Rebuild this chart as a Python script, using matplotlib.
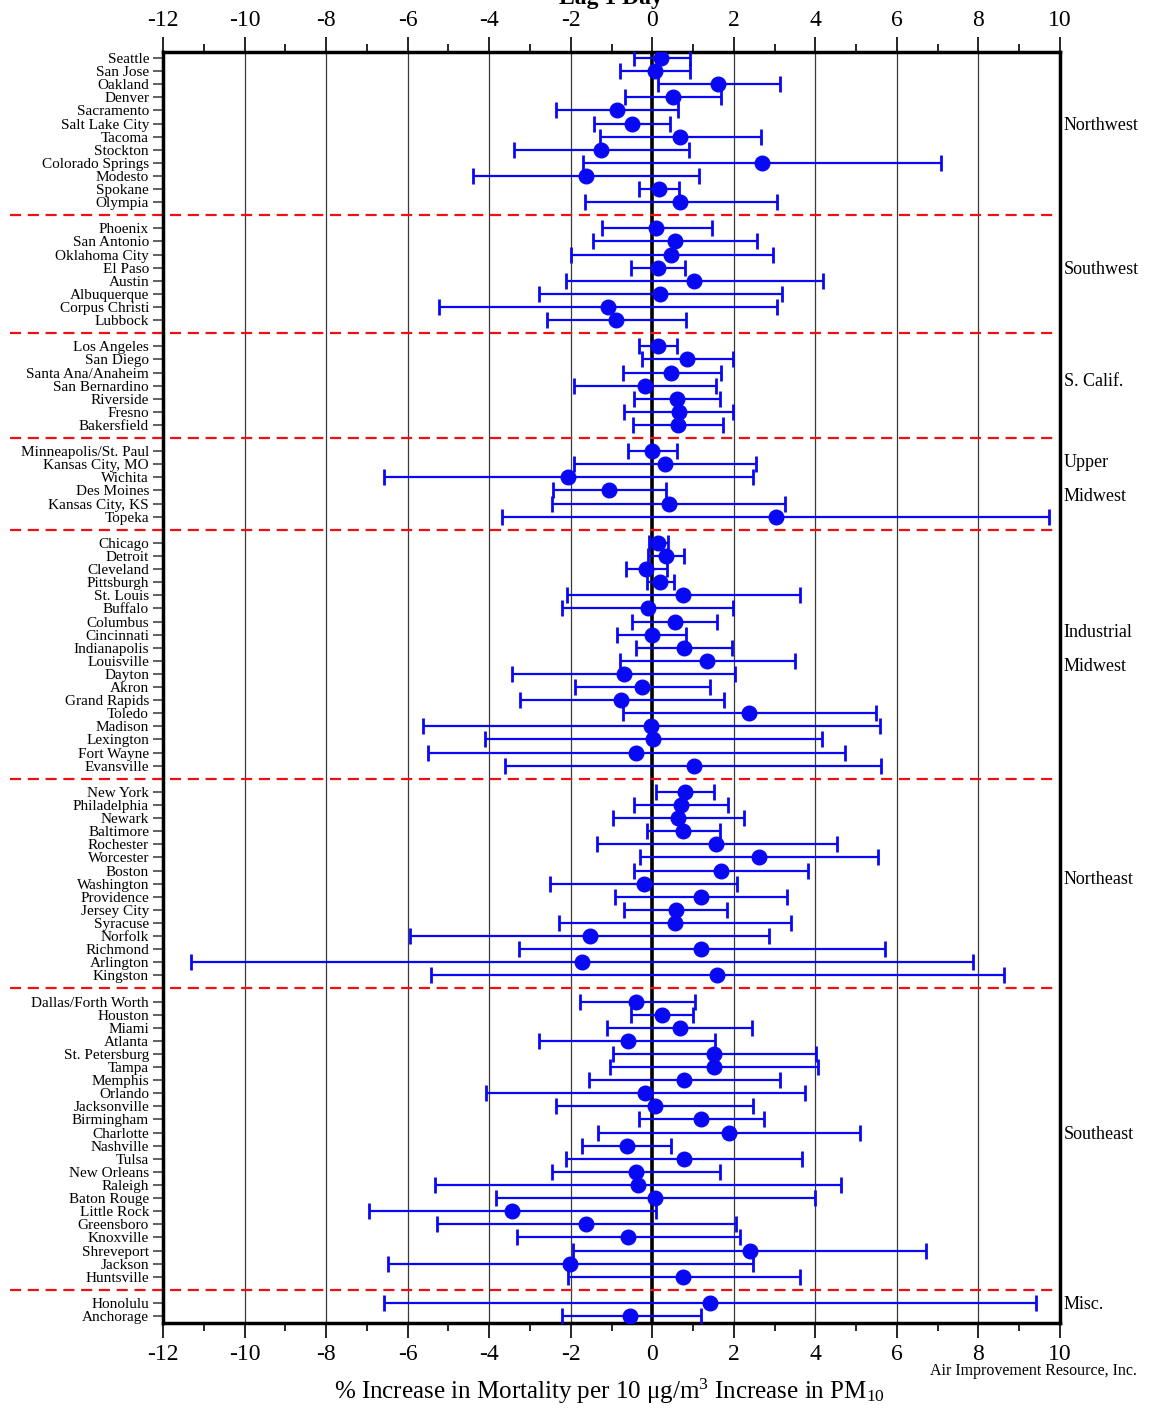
import matplotlib
matplotlib.use('Agg')
import matplotlib.pyplot as plt
import numpy as np
from matplotlib.transforms import blended_transform_factory

plt.rcParams['font.family'] = ['Liberation Serif', 'DejaVu Serif']
plt.rcParams['mathtext.fontset'] = 'custom'
plt.rcParams['mathtext.rm'] = 'Liberation Serif'
plt.rcParams['mathtext.it'] = 'Liberation Serif:italic'

cities = [
    'Seattle', 'San Jose', 'Oakland', 'Denver', 'Sacramento', 'Salt Lake City', 'Tacoma', 'Stockton',
    'Colorado Springs', 'Modesto', 'Spokane', 'Olympia',
    'Phoenix', 'San Antonio', 'Oklahoma City', 'El Paso', 'Austin', 'Albuquerque', 'Corpus Christi', 'Lubbock',
    'Los Angeles', 'San Diego', 'Santa Ana/Anaheim', 'San Bernardino', 'Riverside', 'Fresno', 'Bakersfield',
    'Minneapolis/St. Paul', 'Kansas City, MO', 'Wichita', 'Des Moines', 'Kansas City, KS', 'Topeka',
    'Chicago', 'Detroit', 'Cleveland', 'Pittsburgh', 'St. Louis', 'Buffalo', 'Columbus', 'Cincinnati',
    'Indianapolis', 'Louisville', 'Dayton', 'Akron', 'Grand Rapids', 'Toledo', 'Madison', 'Lexington',
    'Fort Wayne', 'Evansville',
    'New York', 'Philadelphia', 'Newark', 'Baltimore', 'Rochester', 'Worcester', 'Boston', 'Washington',
    'Providence', 'Jersey City', 'Syracuse', 'Norfolk', 'Richmond', 'Arlington', 'Kingston',
    'Dallas/Forth Worth', 'Houston', 'Miami', 'Atlanta', 'St. Petersburg', 'Tampa', 'Memphis', 'Orlando',
    'Jacksonville', 'Birmingham', 'Charlotte', 'Nashville', 'Tulsa', 'New Orleans', 'Raleigh', 'Baton Rouge',
    'Little Rock', 'Greensboro', 'Knoxville', 'Shreveport', 'Jackson', 'Huntsville',
    'Honolulu', 'Anchorage',
]

estimate = [
    0.22, 0.06, 1.62, 0.52, -0.87, -0.50, 0.69, -1.26, 2.68, -1.63, 0.16, 0.69,
    0.10, 0.56, 0.47, 0.13, 1.02, 0.19, -1.08, -0.89,
    0.13, 0.86, 0.47, -0.17, 0.60, 0.65, 0.63,
    -0.01, 0.32, -2.06, -1.05, 0.40, 3.03,
    0.14, 0.34, -0.16, 0.20, 0.76, -0.11, 0.56, -0.01, 0.79, 1.35, -0.70, -0.24, -0.76, 2.37, -0.03, 0.01, -0.39, 1.02,
    0.80, 0.70, 0.62, 0.75, 1.56, 2.62, 1.68, -0.20, 1.19, 0.57, 0.56, -1.52, 1.20, -1.73, 1.59,
    -0.39, 0.23, 0.67, -0.60, 1.52, 1.52, 0.77, -0.17, 0.07, 1.20, 1.88, -0.63, 0.77, -0.40, -0.36, 0.07,
    -3.43, -1.63, -0.59, 2.39, -2.02, 0.76,
    1.41, -0.54,
]

lower = [
    -0.46, -0.80, 0.13, -0.67, -2.35, -1.42, -1.29, -3.40, -1.71, -4.39, -0.32, -1.66,
    -1.23, -1.45, -1.99, -0.53, -2.12, -2.78, -5.23, -2.59,
    -0.32, -0.24, -0.73, -1.91, -0.46, -0.70, -0.47,
    -0.60, -1.92, -6.58, -2.44, -2.45, -3.68,
    -0.09, -0.10, -0.65, -0.13, -2.09, -2.21, -0.50, -0.86, -0.39, -0.80, -3.43, -1.89, -3.25, -0.73, -5.63, -4.11, -5.49, -3.61,
    0.09, -0.44, -0.97, -0.14, -1.36, -0.29, -0.44, -2.52, -0.92, -0.70, -2.28, -5.94, -3.28, -11.31, -5.42,
    -1.78, -0.52, -1.10, -2.77, -0.96, -1.03, -1.56, -4.09, -2.35, -0.32, -1.32, -1.72, -2.12, -2.45, -5.33, -3.83,
    -6.95, -5.29, -3.31, -1.94, -6.49, -2.06,
    -6.58, -2.22,
]

upper = [
    0.92, 0.92, 3.13, 1.69, 0.62, 0.43, 2.67, 0.90, 7.07, 1.15, 0.66, 3.07,
    1.46, 2.58, 2.95, 0.80, 4.19, 3.17, 3.07, 0.83,
    0.60, 1.98, 1.69, 1.56, 1.66, 1.99, 1.73,
    0.60, 2.55, 2.47, 0.34, 3.25, 9.72,
    0.39, 0.79, 0.36, 0.54, 3.63, 1.99, 1.59, 0.83, 1.95, 3.51, 2.02, 1.42, 1.76, 5.49, 5.59, 4.16, 4.73, 5.62,
    1.52, 1.86, 2.24, 1.65, 4.53, 5.53, 3.81, 2.09, 3.30, 1.84, 3.40, 2.87, 5.71, 7.86, 8.62,
    1.05, 0.99, 2.45, 1.53, 4.01, 4.06, 3.13, 3.74, 2.48, 2.74, 5.10, 0.46, 3.66, 1.66, 4.63, 3.99,
    0.09, 2.05, 2.14, 6.72, 2.48, 3.63,
    9.42, 1.20,
]

region_sizes = [12, 8, 7, 6, 18, 15, 22, 2]
region_labels = ['Northwest', 'Southwest', 'S. Calif.', 'Upper\nMidwest', 'Industrial\nMidwest',
                 'Northeast', 'Southeast', 'Misc.']

x_ticks = [-12, -10, -8, -6, -4, -2, 0, 2, 4, 6, 8, 10]

# ---- layout ----
W, H = 1151, 1410
fig = plt.figure(figsize=(W / 100, H / 100), dpi=100)
ax = fig.add_axes([163 / W, 1 - 1323 / H, 897 / W, 1271 / H])

ypos, gaps, centers = [], [], []
row = 0
for gi, n in enumerate(region_sizes):
    start = row
    for _ in range(n):
        ypos.append(row)
        row += 1
    centers.append((start + row - 1) / 2)
    if gi < len(region_sizes) - 1:
        gaps.append(row)
        row += 1

est = np.array(estimate)
lo = np.array(lower)
hi = np.array(upper)

ax.set_xlim(-12, 10)
ax.set_ylim(row - 1 + 0.53, -0.46)

for x in x_ticks[1:-1]:
    if x != 0:
        ax.axvline(x, color='#3a3a3a', lw=0.9, zorder=0)
ax.axvline(0, color='black', lw=2.6, zorder=1)

trans = blended_transform_factory(ax.transAxes, ax.transData)
for g in gaps:
    ax.plot([-0.171, 0.994], [g, g], transform=trans, color='#ee1111', lw=1.6,
            dashes=(5, 3), clip_on=False, zorder=2)

blue = '#0808f5'
ax.errorbar(est, ypos, xerr=[est - lo, hi - est], fmt='o', color=blue, ecolor=blue,
            ms=10.5, elinewidth=1.6, capsize=6, capthick=2.0, zorder=4)

ax.set_yticks(ypos)
ax.set_yticklabels(cities, fontsize=11)
ax.tick_params(axis='y', length=7, width=1.3, color='#555555', pad=3)

ax.set_xticks(x_ticks)
ax.set_xticklabels([str(v) for v in x_ticks])
ax.set_xticks(np.arange(-11, 10, 2), minor=True)
ax.tick_params(axis='x', which='both', top=True, labeltop=True, bottom=True, labelbottom=True,
               direction='out', labelsize=17, width=1.2)
ax.tick_params(axis='x', which='major', length=11, pad=4)
ax.tick_params(axis='x', which='minor', length=6)

for s in ax.spines.values():
    s.set_linewidth(2.5)

for lab, c in zip(region_labels, centers):
    ax.text(1.004, c - 0.35, lab, transform=trans, ha='left', va='center', fontsize=13,
            linespacing=2.3)

fig.text(611 / W, 1 - 4 / H, 'Lag 1 Day', ha='center', va='baseline', fontsize=17, fontweight='bold')
fig.text(609 / W, 1 - 1391 / H,
         '% Increase in Mortality per 10 \u03bcg/m$^3$ Increase in PM$_{10}$',
         ha='center', va='center', fontsize=18)
fig.text(1137 / W, 1 - 1371 / H, 'Air Improvement Resource, Inc.', ha='right', va='center', fontsize=11.5)

fig.savefig('out.png', dpi=100)
